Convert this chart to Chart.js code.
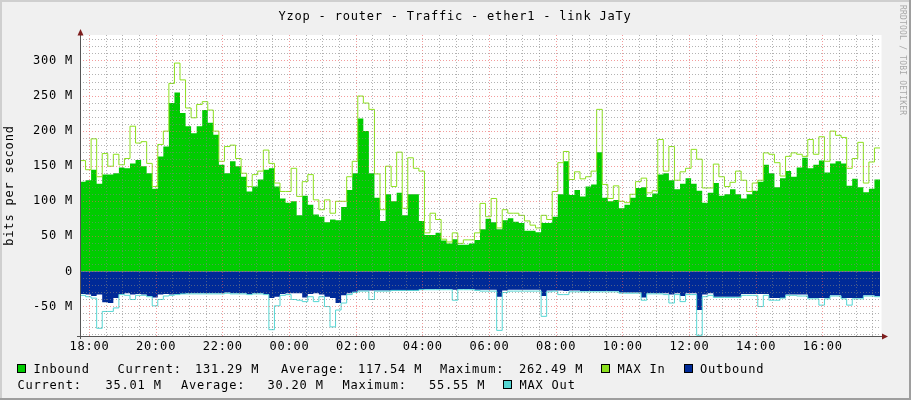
<!DOCTYPE html>
<html lang="en">
<head>
  <meta charset="UTF-8">
  <title>Yzop - router - Traffic - ether1 - link JaTy</title>
  <script src="https://cdn.jsdelivr.net/npm/chart.js@4"></script>
  <style>
    html, body { margin: 0; padding: 0; background: #F0F0F0; }
    #chart-container { position: relative; width: 911px; height: 400px; }
  </style>
</head>
<body>
  <div id="chart-container">
    <canvas id="trafficChart"></canvas>
  </div>

  <script>
    // Texts
    const chartTitle = 'Yzop - router - Traffic - ether1 - link JaTy';
    const yAxisTitle = 'bits per second';
    const watermark = 'RRDTOOL / TOBI OETIKER';

    // Time axis in minutes from 18:00, one value per 10 minute step
    const stepMinutes = 10;
    const startMinute = -17;
    const endMinute = 1423;
    const xTickValues = [0, 120, 240, 360, 480, 600, 720, 840, 960, 1080, 1200, 1320];
    const xTickLabels = ['18:00', '20:00', '22:00', '00:00', '02:00', '04:00', '06:00', '08:00', '10:00', '12:00', '14:00', '16:00'];

    // Value axis in Mbit/s
    const yMin = -92;
    const yMax = 337;
    const yTickValues = [-50, 0, 50, 100, 150, 200, 250, 300];
    const yTickLabels = ['-50 M', '0', '50 M', '100 M', '150 M', '200 M', '250 M', '300 M'];

    const inbound = [
      128, 130, 145, 125, 138, 138, 140, 148, 147, 154, 159, 150, 140, 118, 164, 178, 240, 255, 226, 207,
      197, 207, 230, 212, 195, 152, 140, 157, 150, 135, 114, 121, 131, 145, 147, 121, 104, 98, 100, 80,
      108, 95, 81, 78, 70, 74, 73, 92, 116, 140, 218, 200, 140, 105, 72, 110, 100, 112, 80, 110,
      110, 72, 52, 52, 55, 44, 40, 46, 38, 38, 40, 45, 60, 75, 70, 60, 73, 76, 71, 69,
      58, 58, 56, 69, 69, 78, 110, 157, 109, 116, 107, 121, 124, 170, 105, 100, 102, 90, 95, 105,
      119, 120, 106, 111, 138, 140, 130, 117, 125, 133, 125, 115, 98, 112, 126, 108, 110, 117, 110, 104,
      110, 115, 128, 152, 140, 120, 133, 143, 135, 148, 162, 147, 152, 158, 141, 154, 157, 154, 122, 132,
      120, 113, 118, 131
    ];
    const maxIn = [
      158, 145, 189, 135, 168, 150, 167, 152, 161, 207, 183, 185, 154, 121, 181, 200, 268, 297, 273, 233,
      219, 238, 242, 230, 200, 157, 178, 180, 161, 140, 121, 138, 143, 173, 154, 126, 114, 114, 147, 107,
      128, 138, 102, 88, 102, 83, 100, 100, 135, 157, 250, 240, 231, 139, 88, 150, 121, 170, 90, 162,
      147, 143, 55, 83, 74, 46, 42, 55, 40, 45, 45, 55, 97, 78, 104, 62, 88, 83, 83, 80,
      72, 66, 62, 80, 74, 114, 155, 171, 131, 142, 132, 135, 143, 231, 124, 104, 122, 100, 98, 110,
      128, 133, 112, 115, 188, 143, 178, 130, 142, 147, 174, 160, 119, 119, 153, 135, 121, 127, 143, 130,
      114, 126, 130, 169, 167, 155, 136, 164, 169, 167, 164, 188, 167, 192, 157, 200, 194, 191, 147, 161,
      184, 126, 156, 176
    ];
    const outbound = [
      -32, -33, -35, -33, -44, -45, -38, -32, -31, -33, -32, -33, -35, -37, -33, -32, -33, -32, -32, -31,
      -31, -31, -31, -31, -31, -31, -30, -31, -31, -31, -32, -31, -31, -32, -38, -36, -32, -31, -31, -31,
      -37, -32, -31, -33, -36, -38, -45, -34, -31, -29, -27, -27, -27, -27, -27, -27, -27, -27, -27, -27,
      -27, -26, -25, -25, -25, -25, -25, -26, -25, -25, -25, -26, -26, -26, -26, -36, -27, -26, -26, -26,
      -26, -26, -26, -35, -27, -27, -27, -28, -27, -27, -28, -28, -28, -28, -28, -28, -28, -30, -30, -30,
      -30, -37, -31, -31, -31, -31, -33, -31, -35, -31, -31, -55, -33, -31, -36, -36, -36, -36, -36, -32,
      -32, -32, -32, -32, -38, -38, -38, -33, -33, -33, -33, -38, -38, -38, -38, -34, -34, -38, -38, -38,
      -38, -34, -34, -35
    ];
    const maxOut = [
      -34, -36, -38, -81, -57, -57, -52, -33, -34, -40, -34, -34, -36, -49, -40, -35, -34, -33, -32, -32,
      -32, -32, -32, -32, -32, -32, -31, -32, -32, -32, -33, -32, -32, -33, -83, -49, -34, -33, -40, -41,
      -43, -36, -43, -36, -50, -79, -55, -45, -33, -30, -28, -28, -40, -28, -28, -28, -27, -27, -27, -27,
      -27, -26, -26, -26, -26, -26, -26, -41, -26, -26, -26, -27, -28, -28, -28, -84, -30, -28, -28, -28,
      -28, -28, -28, -64, -29, -28, -33, -33, -29, -29, -29, -29, -29, -29, -29, -29, -29, -31, -31, -31,
      -31, -41, -32, -32, -32, -33, -45, -33, -43, -33, -33, -91, -36, -34, -37, -37, -37, -37, -37, -34,
      -34, -34, -50, -34, -41, -41, -38, -34, -34, -35, -35, -39, -39, -48, -39, -35, -35, -39, -48, -39,
      -39, -35, -35, -36
    ];

    // Legend texts
    const statNames = ['Current:', 'Average:', 'Maximum:'];
    const inboundStats = ['131.29 M', '117.54 M', '262.49 M'];
    const outboundStats = ['35.01 M', '30.20 M', '55.55 M'];
    const seriesNames = ['Inbound', 'MAX In', 'Outbound', 'MAX Out'];
    const seriesColors = ['#00CC00', '#8CE01E', '#002A97', '#55D6D3'];

    const FONT = "12px 'DejaVu Sans Mono', monospace";
    const GRID_MINOR = 'rgba(128, 128, 128, 0.6)';
    const GRID_MAJOR = 'rgba(235, 90, 90, 0.6)';

    // each value holds for one step, the last one is closed at the end of the axis
    function toSteps(values) {
      const pts = values.map((v, i) => ({ x: startMinute + i * stepMinutes, y: v }));
      pts.push({ x: startMinute + values.length * stepMinutes, y: values[values.length - 1] });
      return pts;
    }

    const xGrid = [];
    for (let m = 0; m < endMinute; m += 30) xGrid.push(m);
    const yGrid = [];
    for (let v = -90; v <= 330; v += 10) yGrid.push(v);

    // Background, frame, title, arrows, legend
    const rrdFrame = {
      id: 'rrdFrame',
      beforeDraw(chart) {
        const ctx = chart.ctx;
        const a = chart.chartArea;
        ctx.letterSpacing = '0.8px';
        ctx.save();
        ctx.fillStyle = '#F0F0F0';
        ctx.fillRect(0, 0, chart.width, chart.height);
        ctx.fillStyle = '#CFCFCF';
        ctx.fillRect(0, 0, chart.width, 2);
        ctx.fillRect(0, 0, 2, chart.height);
        ctx.fillStyle = '#9E9E9E';
        ctx.fillRect(0, chart.height - 2, chart.width, 2);
        ctx.fillRect(chart.width - 2, 0, 2, chart.height);
        ctx.fillStyle = '#FFFFFF';
        ctx.fillRect(a.left, a.top, a.right - a.left + 1.5, a.bottom - a.top);
        ctx.restore();
      },
      afterDraw(chart) {
        const ctx = chart.ctx;
        const a = chart.chartArea;
        ctx.save();
        // axes
        ctx.strokeStyle = '#555';
        ctx.lineWidth = 1;
        ctx.beginPath();
        ctx.moveTo(a.left + 0.5, a.top - 4);
        ctx.lineTo(a.left + 0.5, a.bottom + 3);
        ctx.moveTo(a.left - 3, a.bottom + 0.5);
        ctx.lineTo(a.right + 3, a.bottom + 0.5);
        ctx.stroke();
        ctx.fillStyle = '#7F1E1E';
        ctx.beginPath();
        ctx.moveTo(a.left + 0.5, a.top - 6);
        ctx.lineTo(a.left - 2.5, a.top + 0.5);
        ctx.lineTo(a.left + 3.5, a.top + 0.5);
        ctx.closePath();
        ctx.fill();
        ctx.beginPath();
        ctx.moveTo(a.right + 8, a.bottom + 0.5);
        ctx.lineTo(a.right + 2, a.bottom - 2.5);
        ctx.lineTo(a.right + 2, a.bottom + 3.5);
        ctx.closePath();
        ctx.fill();

        // title
        ctx.font = FONT;
        ctx.letterSpacing = '0.8px';
        ctx.fillStyle = '#000';
        ctx.textAlign = 'center';
        ctx.textBaseline = 'alphabetic';
        ctx.fillText(chartTitle, 455, 19.5);

        // legend
        ctx.textAlign = 'left';
        const box = (x, y, color) => {
          ctx.fillStyle = color;
          ctx.fillRect(x, y, 9, 9);
          ctx.strokeStyle = '#000';
          ctx.strokeRect(x + 0.5, y + 0.5, 8, 8);
          ctx.fillStyle = '#000';
        };
        const r1 = 372.5, r2 = 388.5;
        box(17, 364, seriesColors[0]);
        ctx.fillText(seriesNames[0], 33.5, r1);
        ctx.fillText(statNames[0], 117.5, r1);
        ctx.fillText(inboundStats[0], 195, r1);
        ctx.fillText(statNames[1], 281, r1);
        ctx.fillText(inboundStats[1], 358, r1);
        ctx.fillText(statNames[2], 440, r1);
        ctx.fillText(inboundStats[2], 519, r1);
        box(601, 364, seriesColors[1]);
        ctx.fillText(seriesNames[1], 617.5, r1);
        box(684, 364, seriesColors[2]);
        ctx.fillText(seriesNames[2], 700, r1);

        ctx.fillText(statNames[0], 17.5, r2);
        ctx.fillText(outboundStats[0], 105.5, r2);
        ctx.fillText(statNames[1], 181, r2);
        ctx.fillText(outboundStats[1], 267.5, r2);
        ctx.fillText(statNames[2], 342.5, r2);
        ctx.fillText(outboundStats[2], 429, r2);
        box(503, 380, seriesColors[3]);
        ctx.fillText(seriesNames[3], 519.5, r2);

        // vertical watermark on the right
        ctx.translate(902.5, 5);
        ctx.rotate(Math.PI / 2);
        ctx.font = "8px 'DejaVu Sans Mono', monospace";
        ctx.letterSpacing = '0.2px';
        ctx.fillStyle = '#A8A8A8';
        ctx.textBaseline = 'middle';
        ctx.fillText(watermark, 0, 0);
        ctx.restore();
      }
    };

    const ctx = document.getElementById('trafficChart').getContext('2d');
    const chart = new Chart(ctx, {
      type: 'line',
      data: {
        datasets: [
          {
            label: seriesNames[0],
            data: toSteps(inbound),
            stepped: true,
            fill: 'origin',
            backgroundColor: seriesColors[0],
            borderColor: seriesColors[0],
            borderWidth: 0,
            pointRadius: 0,
            order: 3
          },
          {
            label: seriesNames[2],
            data: toSteps(outbound),
            stepped: true,
            fill: 'origin',
            backgroundColor: seriesColors[2],
            borderColor: seriesColors[2],
            borderWidth: 0,
            pointRadius: 0,
            order: 2
          },
          {
            label: seriesNames[1],
            data: toSteps(maxIn),
            stepped: true,
            fill: false,
            borderColor: seriesColors[1],
            borderWidth: 1,
            pointRadius: 0,
            order: 1
          },
          {
            label: seriesNames[3],
            data: toSteps(maxOut),
            stepped: true,
            fill: false,
            borderColor: seriesColors[3],
            borderWidth: 1,
            pointRadius: 0,
            order: 0
          }
        ]
      },
      options: {
        responsive: true,
        maintainAspectRatio: false,
        animation: false,
        layout: { padding: { left: 0, top: 35, right: 31, bottom: 44 } },
        plugins: {
          legend: { display: false },
          tooltip: { enabled: false }
        },
        scales: {
          x: {
            type: 'linear',
            min: startMinute,
            max: endMinute,
            z: 1,
            afterBuildTicks: axis => { axis.ticks = xGrid.map(v => ({ value: v })); },
            afterFit: axis => { axis.height = 20; },
            grid: {
              z: 1,
              color: c => (xTickValues.includes(c.tick.value) ? GRID_MAJOR : GRID_MINOR),
              drawTicks: false
            },
            border: { display: false, dash: [1, 2] },
            ticks: {
              autoSkip: false,
              maxRotation: 0,
              padding: 4,
              color: '#000',
              font: { family: "'DejaVu Sans Mono', monospace", size: 12 },
              callback: v => {
                const i = xTickValues.indexOf(v);
                return i < 0 ? '' : xTickLabels[i];
              }
            }
          },
          y: {
            min: yMin,
            max: yMax,
            z: 1,
            afterBuildTicks: axis => { axis.ticks = yGrid.map(v => ({ value: v })); },
            afterFit: axis => { axis.width = 80; },
            grid: {
              z: 1,
              color: c => (yTickValues.includes(c.tick.value) ? GRID_MAJOR : GRID_MINOR),
              drawTicks: false
            },
            border: { display: false, dash: [1, 2] },
            title: {
              display: true,
              text: yAxisTitle,
              color: '#000',
              font: { family: "'DejaVu Sans Mono', monospace", size: 12 },
              padding: { top: 3, bottom: 0 }
            },
            ticks: {
              autoSkip: false,
              padding: 7,
              color: '#000',
              font: { family: "'DejaVu Sans Mono', monospace", size: 12 },
              callback: v => {
                const i = yTickValues.indexOf(v);
                return i < 0 ? '' : yTickLabels[i];
              }
            }
          }
        }
      },
      plugins: [rrdFrame]
    });
  </script>
</body>
</html>
